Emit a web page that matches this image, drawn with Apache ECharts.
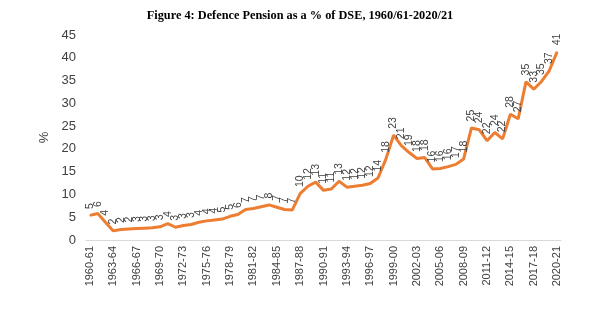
<!DOCTYPE html>
<html>
<head>
<meta charset="utf-8">
<script src="https://cdn.jsdelivr.net/npm/echarts@6/dist/echarts.min.js"></script>
<style>html,body{margin:0;padding:0;background:#fff}#c{width:600px;height:328px}</style>
</head>
<body>
<div id="c"></div>
<script>
const titleText = "Figure 4: Defence Pension as a % of DSE, 1960/61-2020/21";
const categories = [
"1960-61","1961-62","1962-63","1963-64","1964-65","1965-66","1966-67","1967-68","1968-69","1969-70",
"1970-71","1971-72","1972-73","1973-74","1974-75","1975-76","1976-77","1977-78","1978-79","1979-80",
"1980-81","1981-82","1982-83","1983-84","1984-85","1985-86","1986-87","1987-88","1988-89","1989-90",
"1990-91","1991-92","1992-93","1993-94","1994-95","1995-96","1996-97","1997-98","1998-99","1999-00",
"2000-01","2001-02","2002-03","2003-04","2004-05","2005-06","2006-07","2007-08","2008-09","2009-10",
"2010-11","2011-12","2012-13","2013-14","2014-15","2015-16","2016-17","2017-18","2018-19","2019-20",
"2020-21"];
const pensionShare = [
5.4,5.8,3.9,2.0,2.3,2.4,2.5,2.6,2.7,2.9,
3.6,2.8,3.2,3.4,3.9,4.2,4.4,4.6,5.2,5.6,
6.7,6.9,7.3,7.7,7.2,6.7,6.6,10.2,11.8,12.7,
10.9,11.2,12.9,11.6,11.8,12.0,12.4,13.6,17.7,23.0,
20.7,19.2,17.9,18.1,15.6,15.7,16.1,16.6,17.8,24.6,
24.2,21.8,23.6,22.2,27.6,26.6,34.7,33.1,34.8,37.2,
41.3];
const yTicks = {min:0, max:45, interval:5};

const chart = echarts.init(document.getElementById('c'));
chart.setOption({
  animation:false,
  title:{text:titleText,left:'center',top:5,textStyle:{fontFamily:'Liberation Serif',fontWeight:'bold',fontSize:12.3,color:'#000'}},
  grid:{left:86,right:39,top:35,bottom:88},
  xAxis:{type:'category',data:categories,boundaryGap:true,
    axisLine:{lineStyle:{color:'#d9d9d9'}},axisTick:{show:false},
    axisLabel:{interval:2,rotate:90,fontFamily:'Liberation Sans',fontSize:11,color:'#404040',margin:6}},
  yAxis:{type:'value',min:yTicks.min,max:yTicks.max,interval:yTicks.interval,
    name:'%',nameLocation:'middle',nameGap:30,nameRotate:90,
    nameTextStyle:{fontFamily:'Liberation Sans',fontSize:13,color:'#404040'},
    splitLine:{show:false},axisLine:{show:false},axisTick:{show:false},
    axisLabel:{fontFamily:'Liberation Sans',fontSize:13,color:'#404040',margin:10}},
  series:[{type:'line',data:pensionShare,showSymbol:true,showAllSymbol:true,symbol:'circle',symbolSize:1,
    lineStyle:{color:'#ED7D31',width:3},itemStyle:{color:'#ED7D31'},
    labelLayout:{hideOverlap:false},
    label:{show:true,position:'top',rotate:90,align:'left',verticalAlign:'middle',distance:6,
      fontFamily:'Liberation Sans',fontSize:10.5,color:'#404040',
      formatter:function(p){return String(Math.round(p.value));}}}]
});
</script>
</body>
</html>
